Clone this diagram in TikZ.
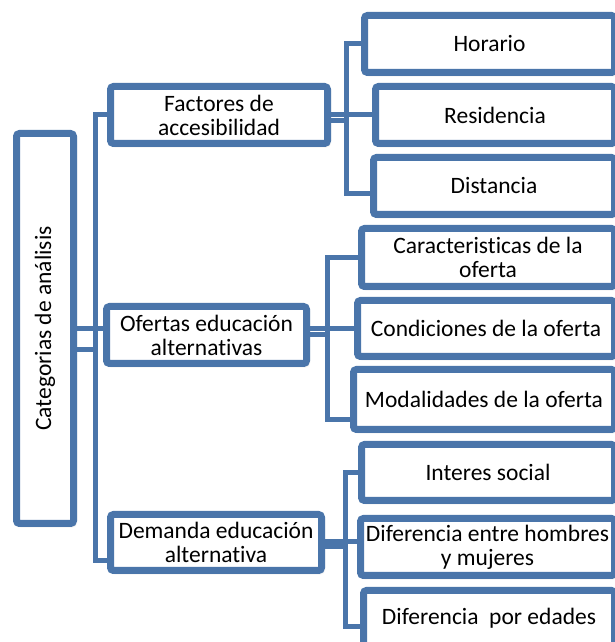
\documentclass[tikz,border=0pt]{standalone}
\usepackage{fontspec}
\setmainfont{Carlito}[Ligatures={NoCommon,NoContextual}]
\usepackage{tikz}
\usetikzlibrary{positioning, calc, shadows.blur}
\definecolor{smartblue}{RGB}{74,117,170}

\begin{document}
\begin{tikzpicture}[
    x=1pt, y=1pt,
    % Core styles
    catbox/.style={
        draw=smartblue, fill=white, line width=7pt, rounded corners=3pt,
        inner xsep=0pt, inner ysep=2pt, align=center,
        font=\fontsize{23.5}{24}\selectfont,
        blur shadow={shadow xshift=1.5pt, shadow yshift=-2pt,
            shadow blur radius=2.5pt, shadow opacity=30}
    },
    link/.style={draw=smartblue, line width=5pt}
]

\useasboundingbox (0,0) rectangle (615,642);
\clip (0,0) rectangle (615,642);

% === ROOT ===
\node[catbox, rotate=90, minimum width=390pt, minimum height=57pt] (root) at (45,313.5) {Categorias de análisis};

% === CATEGORIES ===
\node[catbox, minimum width=217pt, minimum height=57pt] (fact) at (219,527) {Factores de\\accesibilidad};
\node[catbox, minimum width=200pt, minimum height=57pt] (ofer) at (206.5,307) {Ofertas educación\\alternativas};
\node[catbox, minimum width=211pt, minimum height=56pt] (dema) at (216,99.5) {Demanda educación\\alternativa};

% === SUBCATEGORIES ===
\node[catbox, minimum width=250pt, minimum height=57pt] (hora) at (489.5,598) {Horario};
\node[catbox, minimum width=239pt, minimum height=57pt] (resi) at (495,527) {Residencia};
\node[catbox, minimum width=241pt, minimum height=57pt] (dist) at (494,456) {Distancia};

\node[catbox, minimum width=253pt, minimum height=58pt] (cara) at (488,384.5) {Caracteristicas de la\\oferta};
\node[catbox, minimum width=257pt, minimum height=56pt] (cond) at (486,313.5) {Condiciones de la oferta};
\node[catbox, minimum width=261pt, minimum height=60pt] (moda) at (484,242.5) {Modalidades de la oferta};

\node[catbox, minimum width=253pt, minimum height=56pt] (inte) at (488,169.5) {Interes social};
\node[catbox, minimum width=254pt, minimum height=57pt] (dife) at (487.5,95) {Diferencia entre hombres\\y mujeres};
\node[catbox, minimum width=251pt, minimum height=56pt] (edad) at (489,23.5) {Diferencia\ \ por edades};

% === CONNECTORS: root to categories ===
\coordinate (trunkend) at (95,81);
\draw[link] (root.south) -- (root.south -| ofer.west);
\draw[link] ($(root.south)+(0,-21)$) -- ($(root.south -| trunkend)+(0,-21)$);
\draw[link] (fact.west) -| (trunkend) -- (dema.west |- trunkend);

% === CONNECTORS: Factores de accesibilidad ===
\coordinate (factend) at (346.5,448);
\draw[link] (fact.east) -- (resi.west);
\draw[link] ($(fact.east)+(0,-5.5)$) -- ($(fact.east -| factend)+(0,-5.5)$);
\draw[link] (hora.west) -| (factend) -- (dist.west |- factend);

% === CONNECTORS: Ofertas educacion alternativas ===
\coordinate (ofertaend) at (327.5,222);
\draw[link] (ofer.east |- cond.west) -- (cond.west);
\draw[link] (ofer.east) -- (ofer.east -| ofertaend);
\draw[link] (cara.west) -| (ofertaend) -- (moda.west |- ofertaend);

% === CONNECTORS: Demanda educacion alternativa ===
\coordinate (demaend) at (345,15);
\draw[link] ([yshift=1pt]dema.east) -- ([yshift=1pt]dema.east -| dife.west);
\draw[link] (dema.east |- dife.west) -- (dife.west -| demaend);
\draw[link] (inte.west) -| (demaend) -- (edad.west |- demaend);

\end{tikzpicture}
\end{document}
